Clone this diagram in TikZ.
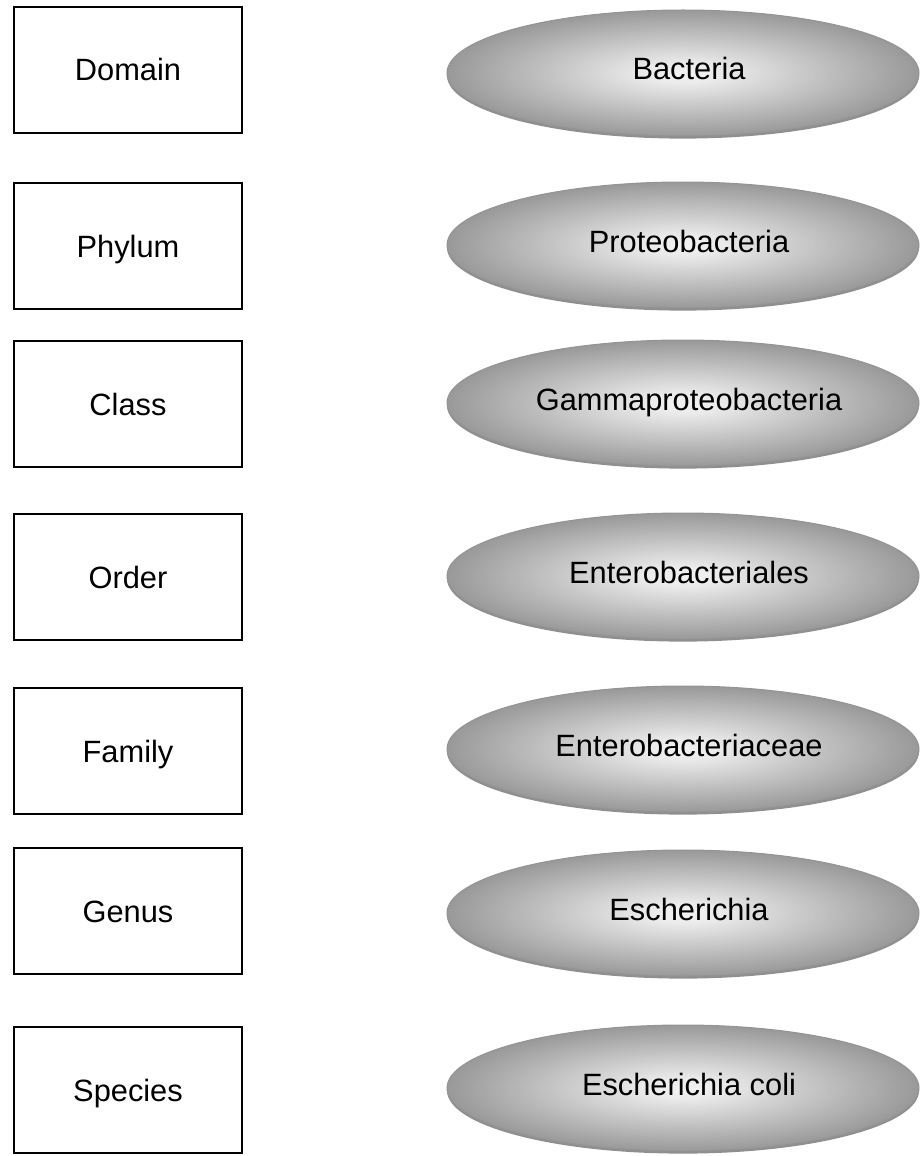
\documentclass[tikz,border=0pt]{standalone}
\usepackage{fontspec}
\setmainfont{Liberation Sans}
\usetikzlibrary{shapes.geometric}
\usetikzlibrary{shadows}
\pgfdeclareradialshading{cellglow}{\pgfpoint{0bp}{0bp}}{%
  color(0bp)=(white!95!black); color(4bp)=(white!92!black);
  color(25bp)=(black!40); color(50bp)=(black!40)}
\tikzset{rankbox/.style = {draw, line width=1pt, minimum width=114pt, minimum height=63pt,
                           inner sep=0pt, text height=11pt, text depth=0pt},
         taxon/.style = {ellipse, shade, shading=cellglow, draw=black!42, line width=0.5pt,
                         minimum width=236pt, minimum height=63pt, inner sep=0pt,
                         drop shadow={shadow xshift=0pt, shadow yshift=-1.3pt,
                                      fill=black!80, opacity=0.55}},
         taxonname/.style = {inner sep=0pt, text height=11pt, text depth=0pt,
                             xshift=3pt, yshift=2pt}}

\begin{document}
\begin{tikzpicture}[x=0.5pt, y=-0.5pt, font=\fontsize{15.4pt}{18pt}\selectfont]
    \useasboundingbox (0, 0) rectangle (920, 1156);
    \clip (0, 0) rectangle (920, 1156);

    % rank on the left, taxon of E. coli on the right
    \foreach \rank/\taxon/\yr/\yt [count=\i] in {Domain/Bacteria/70/73,
        Phylum/Proteobacteria/246/245, Class/Gammaproteobacteria/404/403,
        Order/Enterobacteriales/577/576, Family/Enterobacteriaceae/751/749,
        Genus/Escherichia/911/913, Species/Escherichia coli/1090/1088} {
      \node [rankbox] (rank-\i) at (128, \yr) {\rank};
      \node [taxon, label={[taxonname]center:\taxon}] (taxon-\i) at (683, \yt) {};
    }
  \end{tikzpicture}
\end{document}
